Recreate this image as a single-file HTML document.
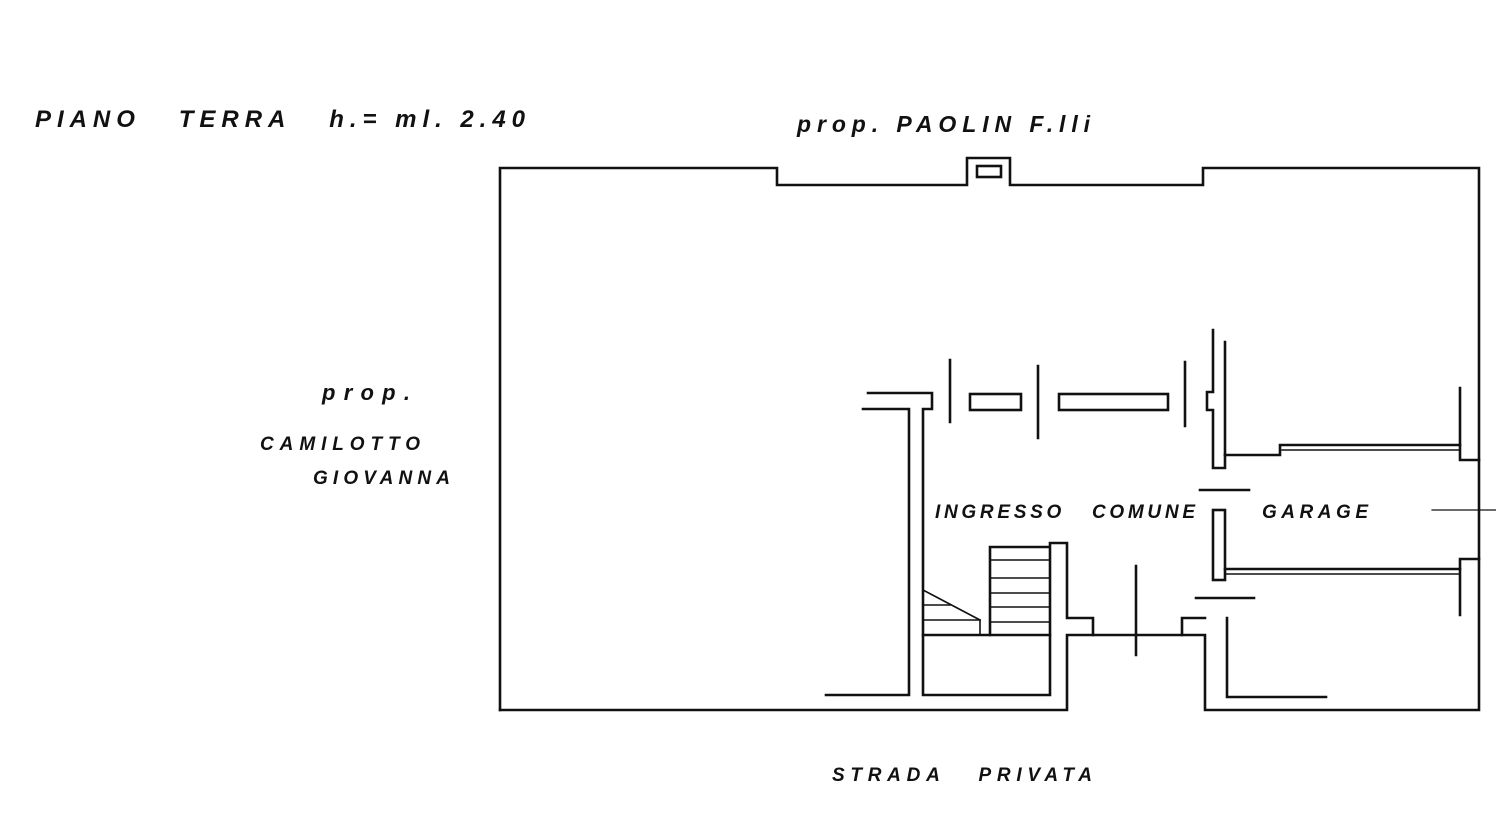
<!DOCTYPE html>
<html><head><meta charset="utf-8"><style>
html,body{margin:0;padding:0;background:#fff;}
svg{display:block}
text{font-family:"Liberation Sans",sans-serif;font-style:italic;font-weight:bold;fill:#111;}
</style></head><body>
<svg width="1496" height="834" viewBox="0 0 1496 834" xmlns="http://www.w3.org/2000/svg">
<g fill="none" stroke="#111" stroke-width="2.6" stroke-linecap="square">
<polyline points="500,710 500,168 777,168 777,185 967,185 967,158 1010,158 1010,185 1203,185 1203,168 1479,168 1479,710 1205,710 1205,635 1182,635 1182,618 1205,618"/>
<rect x="977" y="166" width="24" height="11"/>
<polyline points="500,710 1067,710 1067,635 1093,635 1093,618 1067,618 1067,543 1050,543 1050,695 923,695 923,409 932,409 932,393 868,393"/>
<polyline points="863,409 909,409 909,695 826,695"/>
<line x1="1093" y1="635" x2="1182" y2="635"/>
<polyline points="1227,618 1227,697 1326,697"/>
<line x1="950" y1="360" x2="950" y2="422"/>
<line x1="1038" y1="366" x2="1038" y2="438"/>
<line x1="1185" y1="362" x2="1185" y2="426"/>
<rect x="970" y="394" width="51" height="16"/>
<rect x="1059" y="394" width="109" height="16"/>
<polyline points="1213,330 1213,392 1207,392 1207,410 1213,410 1213,468 1225,468 1225,455"/>
<line x1="1225" y1="342" x2="1225" y2="455"/>
<rect x="1213" y="510" width="12" height="70"/>
<line x1="1200" y1="490" x2="1249" y2="490"/>
<line x1="1196" y1="598" x2="1254" y2="598"/>
<line x1="1136" y1="566" x2="1136" y2="655"/>
<polyline points="1225,455 1280,455 1280,445 1460,445"/>
<line x1="1282" y1="450" x2="1460" y2="450" stroke-width="1.5"/>
<polyline points="1460,388 1460,460 1479,460"/>
<line x1="1225" y1="569" x2="1460" y2="569"/>
<line x1="1225" y1="574" x2="1460" y2="574" stroke-width="1.5"/>
<polyline points="1460,615 1460,559 1479,559"/>
<line x1="1432" y1="510" x2="1496" y2="510" stroke-width="1.2"/>
<polyline points="990,635 990,547 1049,547"/>
<line x1="990" y1="560" x2="1049" y2="560" stroke-width="1.6"/>
<line x1="990" y1="578" x2="1049" y2="578" stroke-width="1.6"/>
<line x1="990" y1="593" x2="1049" y2="593" stroke-width="1.6"/>
<line x1="990" y1="607" x2="1049" y2="607" stroke-width="1.6"/>
<line x1="990" y1="622" x2="1049" y2="622" stroke-width="1.6"/>
<line x1="923" y1="635" x2="1050" y2="635"/>
<line x1="923" y1="590" x2="980" y2="620" stroke-width="1.6"/>
<line x1="923" y1="620" x2="980" y2="620" stroke-width="1.6"/>
<line x1="980" y1="620" x2="980" y2="635" stroke-width="1.6"/>
<line x1="923" y1="605" x2="950" y2="605" stroke-width="1.6"/>
</g>
<text x="35" y="127" font-size="24" textLength="490" lengthAdjust="spacing">PIANO&#160;&#160;&#160;TERRA&#160;&#160;&#160;h.= ml. 2.40</text>
<text x="797" y="132" font-size="23" textLength="293" lengthAdjust="spacing">prop. PAOLIN F.lli</text>
<text x="322" y="400" font-size="22" textLength="88" lengthAdjust="spacing">prop.</text>
<text x="260" y="450" font-size="19" textLength="160" lengthAdjust="spacing">CAMILOTTO</text>
<text x="313" y="484" font-size="19" textLength="137" lengthAdjust="spacing">GIOVANNA</text>
<text x="935" y="518" font-size="19" textLength="260" lengthAdjust="spacing">INGRESSO&#160;&#160;&#160;COMUNE</text>
<text x="1262" y="518" font-size="19" textLength="106" lengthAdjust="spacing">GARAGE</text>
<text x="832" y="781" font-size="19" textLength="260" lengthAdjust="spacing">STRADA&#160;&#160;&#160;PRIVATA</text>
</svg>
</body></html>
